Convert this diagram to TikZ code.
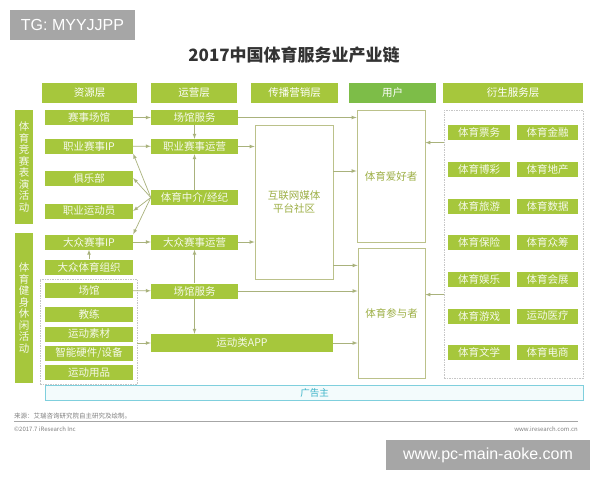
\documentclass[tikz,border=0pt]{standalone}
\usepackage{fontspec}
\setmainfont{Noto Sans CJK SC}
\newfontfamily\wmfont{Liberation Sans}
\usepackage{xcolor}
\usetikzlibrary{positioning, arrows}
\definecolor{grn}{HTML}{A6C73C}
\definecolor{usr}{HTML}{7DBD48}
\definecolor{lnk}{HTML}{A9B27C}
\definecolor{olv}{HTML}{BBC18A}
\definecolor{otxt}{HTML}{9DAF45}
\definecolor{adb}{HTML}{7FCFDD}
\definecolor{adf}{HTML}{F3FBFC}
\definecolor{adt}{HTML}{3BB3C8}
\definecolor{wmgray}{HTML}{A6A6A6}
\definecolor{ttl}{HTML}{333333}

\begin{document}
\begin{tikzpicture}[x=1pt, y=-1pt,
  gbox/.style={fill=grn, text=white!90!grn, inner sep=0pt, minimum height=15pt, font=\fontsize{10.5}{10.5}\selectfont},
  hdr/.style={fill=grn, text=white, inner sep=0pt, minimum height=20pt, font=\fontsize{10.5}{10.5}\selectfont},
  vbar/.style={fill=grn, text=white!90!grn, inner sep=0pt, minimum width=18pt, align=center, font=\fontsize{10.5}{11.5}\selectfont},
  wbox/.style={draw=olv, fill=white, line width=0.8pt, inner sep=0pt, text=otxt, align=center, font=\fontsize{10.5}{13}\selectfont},
  dbox/.style={draw=gray!45, line width=0.5pt, dash pattern=on 1.5pt off 1pt, inner sep=0pt},
  lk/.style={draw=lnk, line width=0.7pt, -latex},
  wm/.style={fill=wmgray, text=white, inner sep=0pt, font=\wmfont\fontsize{16}{16}\selectfont}]
\fill[white] (0,0) rectangle (600,480);
\useasboundingbox (0,0) rectangle (600,480);

% watermark and title
\node[wm, minimum width=125pt, minimum height=30pt] (tg) at (72.5,25) {TG: MYYJJPP};
\node[text=ttl, font=\fontsize{17}{17}\selectfont\bfseries] (title) at (294,55) {2017中国体育服务业产业链};

% layers
\node[hdr, minimum width=95pt] (h1) at (89.5,93) {资源层};
\node[hdr, minimum width=86pt] (h2) at (194,93) {运营层};
\node[hdr, minimum width=87pt] (h3) at (294.5,93) {传播营销层};
\node[hdr, fill=usr, minimum width=87pt] (h4) at (392.5,93) {用户};
\node[hdr, minimum width=140pt] (h5) at (513,93) {衍生服务层};

% left bars
\node[vbar, minimum height=114pt] (v1) at (24,167) {体\\育\\竞\\赛\\表\\演\\活\\动};
\node[vbar, minimum height=150pt] (v2) at (24,308) {体\\育\\健\\身\\休\\闲\\活\\动};

% resources
\node[dbox, minimum width=97pt, minimum height=105pt] (grp) at (88.5,331.5) {};
\node[gbox, minimum width=88pt] (ssg) at (89,117.5) {赛事场馆};
\node[gbox, minimum width=88pt] (zyip) at (89,146) {职业赛事IP};
\node[gbox, minimum width=88pt] (jlb) at (89,178) {俱乐部};
\node[gbox, minimum width=88pt] (ydy) at (89,211) {职业运动员};
\node[gbox, minimum width=88pt] (dzip) at (89,242) {大众赛事IP};
\node[gbox, minimum width=88pt] (dzzz) at (89,267) {大众体育组织};
\node[gbox, minimum width=88pt] (cg) at (89,290.5) {场馆};
\node[gbox, minimum width=88pt] (jl) at (89,314.5) {教练};
\node[gbox, minimum width=88pt] (sc) at (89,334) {运动素材};
\node[gbox, minimum width=88pt] (yj) at (89,353) {智能硬件/设备};
\node[gbox, minimum width=88pt] (yp) at (89,372.5) {运动用品};

% operation
\node[gbox, minimum width=87pt] (cgfw1) at (194.5,117.5) {场馆服务};
\node[gbox, minimum width=87pt] (zysy) at (194.5,146.5) {职业赛事运营};
\node[gbox, minimum width=87pt] (zj) at (194.5,197.5) {体育中介/经纪};
\node[gbox, minimum width=87pt] (dzsy) at (194.5,242) {大众赛事运营};
\node[gbox, minimum width=87pt] (cgfw2) at (194.5,291) {场馆服务};
\node[gbox, minimum width=182pt, minimum height=18pt] (app) at (242,343) {运动类APP};

% media and users
\node[wbox, minimum width=78pt, minimum height=154pt] (media) at (294,202) {互联网媒体\\平台社区};
\node[wbox, minimum width=68pt, minimum height=132pt] (fan) at (391,176) {体育爱好者};
\node[wbox, minimum width=67pt, minimum height=130pt] (par) at (391.5,313) {体育参与者};

% derived services
\node[dbox, minimum width=139pt, minimum height=268pt] (der) at (513.5,244) {};
\node[gbox, minimum width=62pt] (d1) at (479,132.5) {体育票务};
\node[gbox, minimum width=61pt] (d2) at (547.5,132.5) {体育金融};
\node[gbox, minimum width=62pt] (d3) at (479,169.5) {体育博彩};
\node[gbox, minimum width=61pt] (d4) at (547.5,169.5) {体育地产};
\node[gbox, minimum width=62pt] (d5) at (479,206) {体育旅游};
\node[gbox, minimum width=61pt] (d6) at (547.5,206) {体育数据};
\node[gbox, minimum width=62pt] (d7) at (479,242.5) {体育保险};
\node[gbox, minimum width=61pt] (d8) at (547.5,242.5) {体育众筹};
\node[gbox, minimum width=62pt] (d9) at (479,279.5) {体育娱乐};
\node[gbox, minimum width=61pt] (d10) at (547.5,279.5) {体育会展};
\node[gbox, minimum width=62pt] (d11) at (479,316) {体育游戏};
\node[gbox, minimum width=61pt] (d12) at (547.5,316) {运动医疗};
\node[gbox, minimum width=62pt] (d13) at (479,352.5) {体育文学};
\node[gbox, minimum width=61pt] (d14) at (547.5,352.5) {体育电商};

% advertisers
\node[draw=adb, fill=adf, line width=1pt, minimum width=538pt, minimum height=15pt, inner sep=0pt, text=adt, font=\fontsize{9.5}{9.5}\selectfont] (ad) at (314.5,392.5) {广告主};

% links
\draw[lk] (ssg) -- (cgfw1);
\draw[lk] (cgfw1.south) -- (zysy.north);
\draw[lk] (cgfw1.east) -- (cgfw1.east -| fan.west);
\draw[lk] (zyip) -- (zysy);
\draw[lk] (zysy.east) -- (zysy.east -| media.west);
\draw[lk] (zj.north) -- (zysy.south);
\draw[lk] (zj.west) -- (zyip.south east);
\draw[lk] (zj.west) -- (jlb.east);
\draw[lk] (zj.west) -- (ydy.east);
\draw[lk] (zj.west) -- (dzip.north east);
\draw[lk] (dzip) -- (dzsy);
\draw[lk] (dzsy.east) -- (dzsy.east -| media.west);
\draw[lk] (dzzz.north) -- (dzip.south);
\draw[lk] (cg) -- (cgfw2);
\draw[lk] (cgfw2.north) -- (dzsy.south);
\draw[lk] (cgfw2.south) -- (cgfw2.south |- app.north);
\draw[lk] (grp.east |- app.west) -- (app.west);
\draw[lk] (cgfw2.east) -- (cgfw2.east -| par.west);
\draw[lk] (media.east |- 0,171) -- (fan.west |- 0,171);
\draw[lk] ([yshift=14pt]media.south east) -- ([yshift=14pt]media.south east -| par.west);
\draw[lk] (app.east) -- (app.east -| par.west);
\coordinate (a1) at ([yshift=-33pt]fan.north east);
\coordinate (a2) at ([yshift=-47pt]par.north east);
\draw[lk] (a1 -| der.west) -- (a1);
\draw[lk] (a2 -| der.west) -- (a2);

% footer
\node[anchor=south west, inner sep=0pt, text=gray, font=\fontsize{6.5}{6.5}\selectfont] (src) at (14,419.5) {来源：艾瑞咨询研究院自主研究及绘制。};
\coordinate (fl) at (14,421);
\coordinate (fr) at (578,421);
\draw[gray!70, line width=0.5pt] (fl) -- (fr);
\node[anchor=west, inner sep=0pt, text=gray, font=\fontsize{6}{6}\selectfont] (cp) at (14,429) {©2017.7 iResearch Inc};
\node[anchor=east, inner sep=0pt, text=gray, font=\fontsize{6}{6}\selectfont] (url) at (578,429) {www.iresearch.com.cn};
\node[wm, minimum width=204pt, minimum height=30pt] (pc) at (488,455) {www.pc-main-aoke.com};
\end{tikzpicture}
\end{document}
